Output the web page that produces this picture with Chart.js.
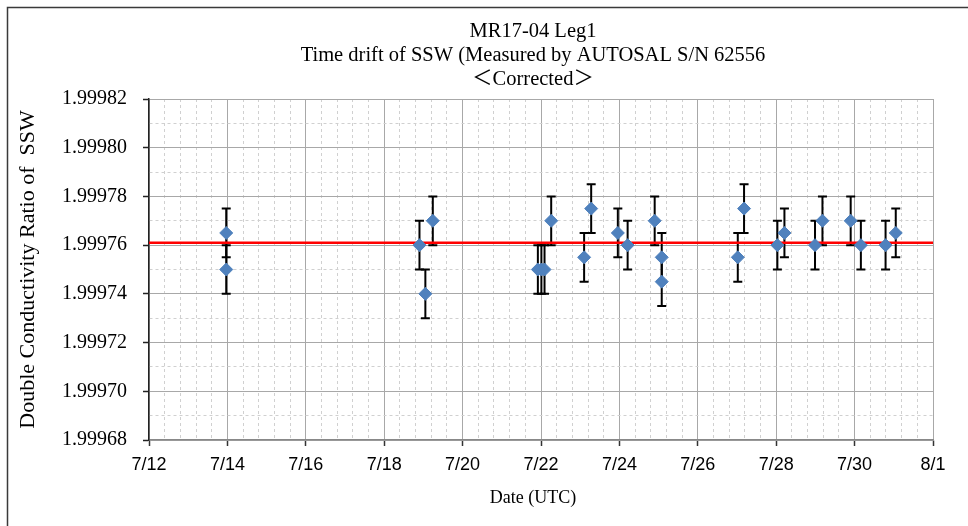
<!DOCTYPE html>
<html><head><meta charset="utf-8">
<script src="https://cdn.jsdelivr.net/npm/chart.js@4.4.0/dist/chart.umd.min.js"></script>
<style>html,body{margin:0;padding:0;background:#fff;} #wrap{width:968px;height:526px;position:relative;}</style>
</head><body><div id="wrap"><canvas id="c" width="968" height="526"></canvas></div>
<script>
// ---- data (day of July; 32 = 8/1) ----
const dates  = [13.97, 13.97, 18.90, 19.05, 19.24, 21.92, 22.01, 22.09, 22.26, 23.10, 23.28, 23.96, 24.21, 24.90, 25.08, 25.08, 27.02, 27.18, 28.03, 28.21, 28.99, 29.18, 29.90, 30.16, 30.79, 31.05];
const ratios = [1.999765, 1.99975, 1.99976, 1.99974, 1.99977, 1.99975, 1.99975, 1.99975, 1.99977, 1.999755, 1.999775, 1.999765, 1.99976, 1.99977, 1.999755, 1.999745, 1.999755, 1.999775, 1.99976, 1.999765, 1.99976, 1.99977, 1.99977, 1.99976, 1.99976, 1.999765];
const errors = [0.00001, 0.00001, 0.00001, 0.00001, 0.00001, 0.00001, 0.00001, 0.00001, 0.00001, 0.00001, 0.00001, 0.00001, 0.00001, 0.00001, 0.00001, 0.00001, 0.00001, 0.00001, 0.00001, 0.00001, 0.00001, 0.00001, 0.00001, 0.00001, 0.00001, 0.00001];
const meanRatio = 1.999761;
const meanRange = [12, 32];
const xTickDays   = [12, 14, 16, 18, 20, 22, 24, 26, 28, 30, 32];
const xTickLabels = ['7/12','7/14','7/16','7/18','7/20','7/22','7/24','7/26','7/28','7/30','8/1'];
const yTickValues = [1.99968, 1.99970, 1.99972, 1.99974, 1.99976, 1.99978, 1.99980, 1.99982];
const yTickLabels = ['1.99968','1.99970','1.99972','1.99974','1.99976','1.99978','1.99980','1.99982'];
const titleLines = ['MR17-04 Leg1', 'Time drift of SSW (Measured by AUTOSAL S/N 62556', '＜Corrected＞'];
const xTitle = 'Date (UTC)';
const yTitle = 'Double Conductivity Ratio of  SSW';

// minor grid steps
const xMinorStep = 0.4, yMinorStep = 0.00001;

function isMajorX(v){ return xTickDays.some(d => Math.abs(d - v) < 1e-6); }
function isMajorY(v){ return yTickValues.some(d => Math.abs(d - v) < 1e-9); }

const MAJOR = '#A8A8A8', MINOR = '#D0D0D0';

const errorBarPlugin = {
  id: 'errbars',
  beforeDatasetsDraw(chart) {
    const {ctx, scales:{x, y}} = chart;
    ctx.save();
    ctx.strokeStyle = '#000';
    ctx.lineWidth = 2;
    const cap = 4.5;
    dates.forEach((d, i) => {
      const px = x.getPixelForValue(d);
      const yt = y.getPixelForValue(ratios[i] + errors[i]);
      const yb = y.getPixelForValue(ratios[i] - errors[i]);
      ctx.beginPath();
      ctx.moveTo(px, yt); ctx.lineTo(px, yb);
      ctx.moveTo(px - cap, yt); ctx.lineTo(px + cap, yt);
      ctx.moveTo(px - cap, yb); ctx.lineTo(px + cap, yb);
      ctx.stroke();
    });
    ctx.restore();
  }
};

const textPlugin = {
  id: 'texts',
  afterDraw(chart) {
    const ctx = chart.ctx;
    ctx.save();
    // outer frame
    ctx.strokeStyle = '#3a3a3a';
    ctx.lineWidth = 1.5;
    ctx.beginPath();
    ctx.moveTo(7.5, 540); ctx.lineTo(7.5, 7.5); ctx.lineTo(980, 7.5);
    ctx.stroke();
    // title
    ctx.fillStyle = '#000';
    ctx.textAlign = 'center';
    ctx.textBaseline = 'alphabetic';
    ctx.font = '20.5px "Liberation Serif", "Noto Sans CJK JP"';
    const ys = [37, 60.5, 85];
    titleLines.forEach((t, i) => ctx.fillText(t, 533, ys[i]));
    // x axis title
    ctx.font = '18px "Liberation Serif"';
    ctx.fillText(xTitle, 533, 503);
    ctx.restore();
  }
};

const xTicks = [];
for (let k = 0; k <= 50; k++) xTicks.push({value: 12 + k * xMinorStep});
const yTicks = [];
for (let k = 0; k <= 14; k++) yTicks.push({value: 1.99968 + k * yMinorStep});

new Chart(document.getElementById('c'), {
  data: {
    datasets: [
      {
        type: 'scatter',
        label: 'ratio',
        data: dates.map((d, i) => ({x: d, y: ratios[i]})),
        pointStyle: 'rectRot',
        pointRadius: 6.5,
        backgroundColor: '#4F81BD',
        borderColor: '#4F81BD',
        borderWidth: 1,
        order: 0
      },
      {
        type: 'line',
        label: 'mean',
        data: meanRange.map(d => ({x: d, y: meanRatio})),
        borderColor: '#FF0000',
        borderWidth: 2.5,
        pointRadius: 0,
        fill: false,
        order: 1
      }
    ]
  },
  options: {
    responsive: false,
    animation: false,
    events: [],
    layout: { padding: { top: 99, right: 35, left: 8, bottom: 0 } },
    plugins: { legend: { display: false }, title: { display: false }, tooltip: { enabled: false } },
    scales: {
      x: {
        type: 'linear',
        min: 12, max: 32,
        afterBuildTicks: s => { s.ticks = xTicks.map(t => ({value: t.value})); },
        afterFit: s => { s.height = 86; },
        ticks: {
          autoSkip: false, maxRotation: 0, minRotation: 0,
          padding: 8,
          color: '#000',
          font: { family: 'Liberation Sans', size: 18 },
          callback: v => { const i = xTickDays.findIndex(d => Math.abs(d - v) < 1e-6); return i >= 0 ? xTickLabels[i] : ''; }
        },
        grid: {
          color: c => (c.tick && isMajorX(c.tick.value)) ? MAJOR : MINOR,
          lineWidth: 1,
          tickLength: 6,
          tickColor: c => (c.tick && isMajorX(c.tick.value)) ? '#333' : 'rgba(0,0,0,0)',
          tickWidth: 1.5
        },
        border: { display: true, color: '#888', width: 1.5, dash: c => (c.tick && !isMajorX(c.tick.value)) ? [3, 3] : [] }
      },
      y: {
        type: 'linear',
        min: 1.99968, max: 1.99982,
        afterBuildTicks: s => { s.ticks = yTicks.map(t => ({value: t.value})); },
        afterFit: s => { s.width = 141; },
        ticks: {
          autoSkip: false,
          padding: 16,
          color: '#000',
          font: { family: 'Liberation Serif', size: 20 },
          callback: v => { const i = yTickValues.findIndex(d => Math.abs(d - v) < 1e-9); return i >= 0 ? yTickLabels[i] : ''; }
        },
        grid: {
          color: c => (c.tick && isMajorY(c.tick.value)) ? MAJOR : MINOR,
          lineWidth: 1,
          tickLength: 6,
          tickColor: c => (c.tick && isMajorY(c.tick.value)) ? '#222' : 'rgba(0,0,0,0)',
          tickWidth: 1.5
        },
        border: { display: true, color: '#222', width: 1.5, dash: c => (c.tick && !isMajorY(c.tick.value)) ? [3, 3] : [] },
        title: {
          display: true, text: yTitle, color: '#000',
          font: { family: 'Liberation Serif', size: 22 },
          padding: { top: 7, bottom: 0 }
        }
      }
    }
  },
  plugins: [errorBarPlugin, textPlugin]
});
</script>
</body></html>
